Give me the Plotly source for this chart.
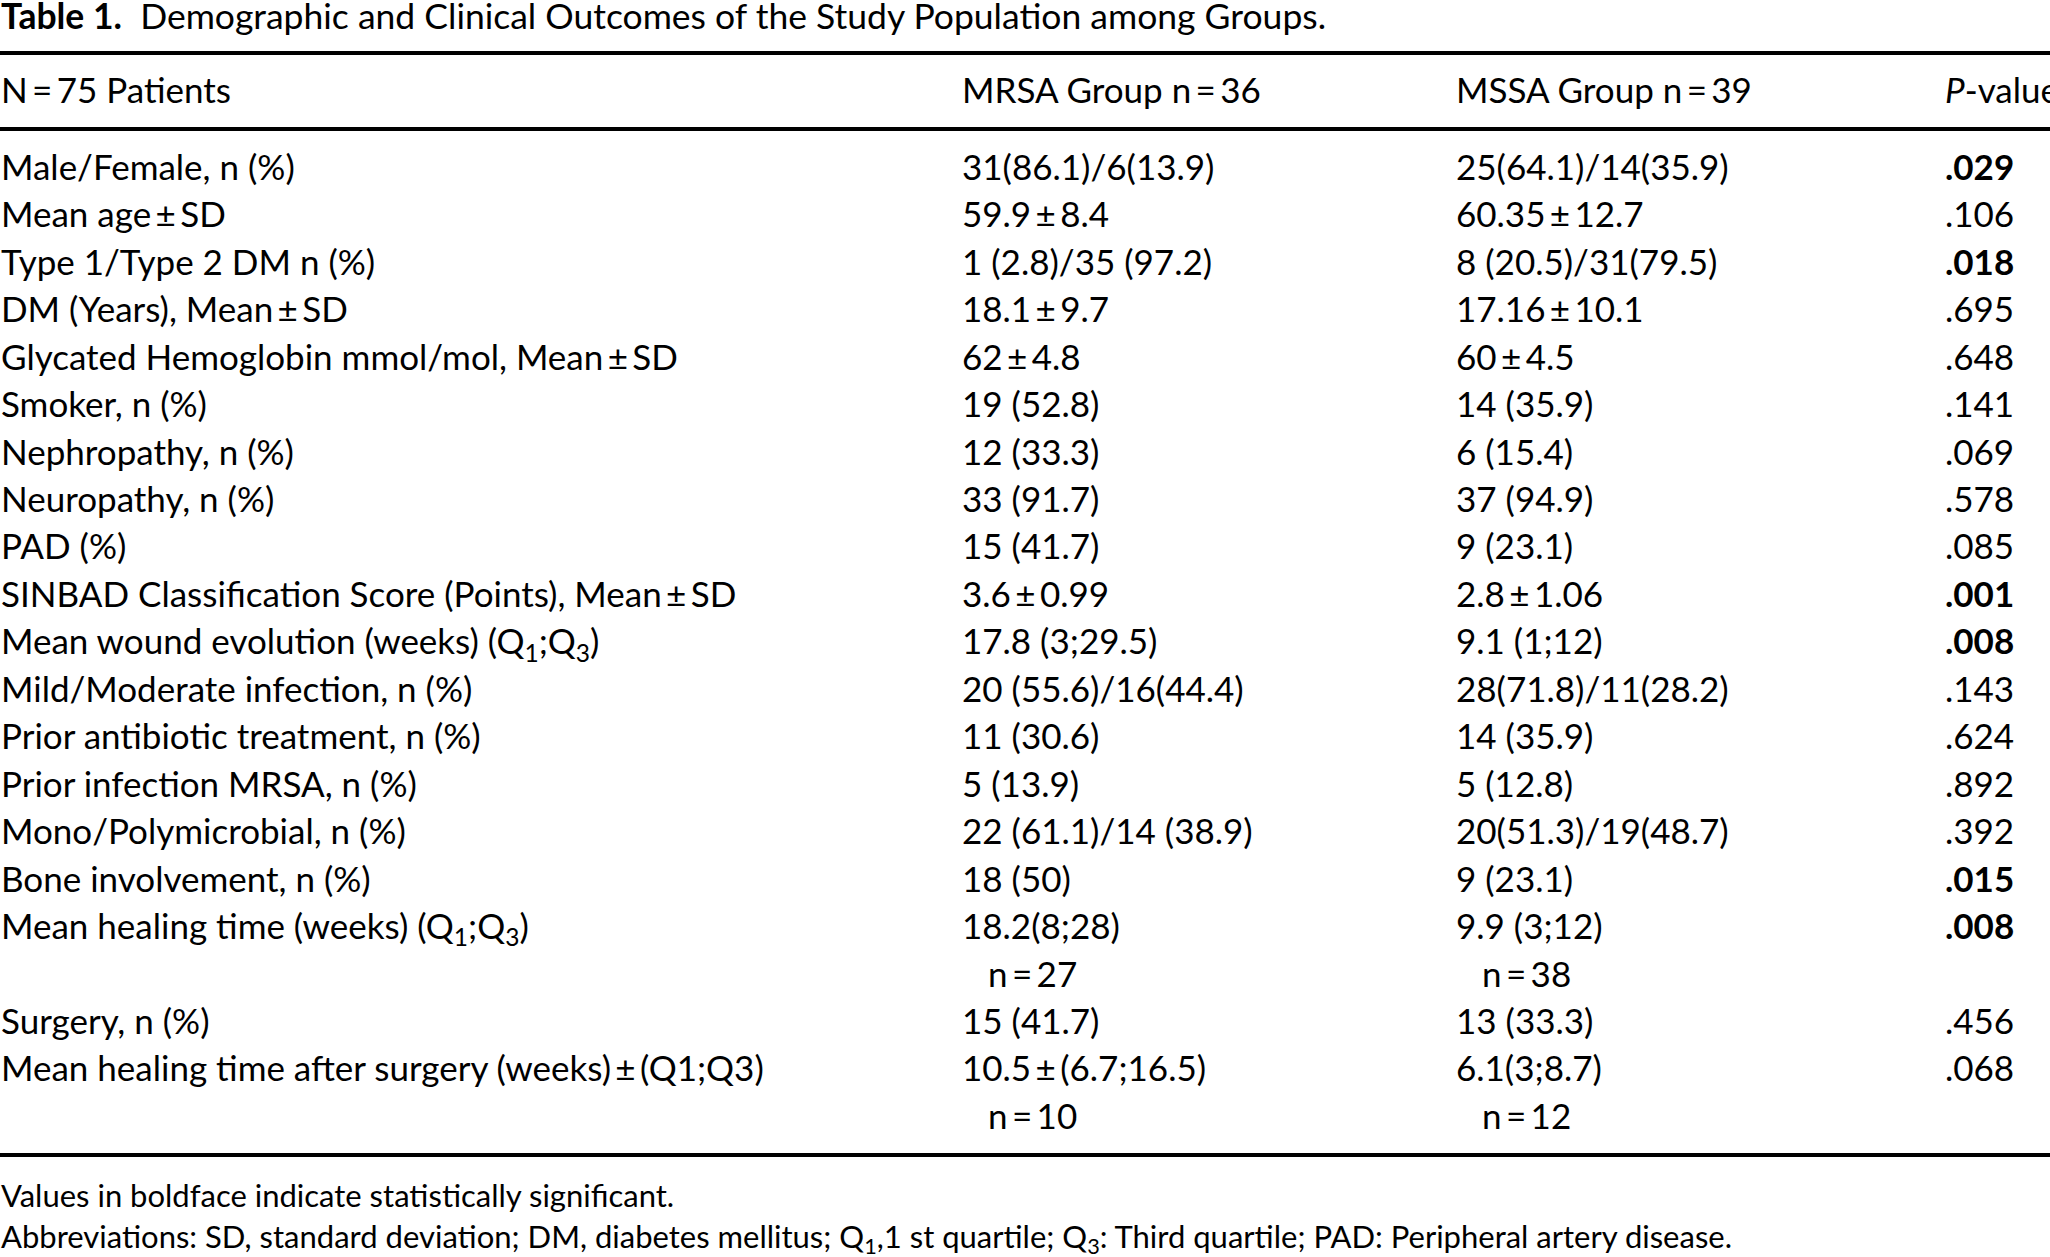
import plotly.graph_objects as go

# table content
title_text = "<b>Table 1.</b>  Demographic and Clinical Outcomes of the Study Population among Groups."
header = ["N\u2009=\u200975 Patients", "MRSA Group n\u2009=\u200936", "MSSA Group n\u2009=\u200939", "<i>P</i>-value"]

PM = "\u2009\u00b1\u2009"
Q13 = "(Q<sub>1</sub>;Q<sub>3</sub>)"

variables = [
    "Male/Female, n (%)",
    "Mean age" + PM + "SD",
    "Type 1/Type 2 DM n (%)",
    "DM (Years), Mean" + PM + "SD",
    "Glycated Hemoglobin mmol/mol, Mean" + PM + "SD",
    "Smoker, n (%)",
    "Nephropathy, n (%)",
    "Neuropathy, n (%)",
    "PAD (%)",
    "SINBAD Classification Score (Points), Mean" + PM + "SD",
    "Mean wound evolution (weeks) " + Q13,
    "Mild/Moderate infection, n (%)",
    "Prior antibiotic treatment, n (%)",
    "Prior infection MRSA, n (%)",
    "Mono/Polymicrobial, n (%)",
    "Bone involvement, n (%)",
    "Mean healing time (weeks) " + Q13,
    "Surgery, n (%)",
    "Mean healing time after surgery (weeks)" + PM + "(Q1;Q3)",
]
mrsa = [
    "31(86.1)/6(13.9)", "59.9" + PM + "8.4", "1 (2.8)/35 (97.2)", "18.1" + PM + "9.7",
    "62" + PM + "4.8", "19 (52.8)", "12 (33.3)", "33 (91.7)", "15 (41.7)",
    "3.6" + PM + "0.99", "17.8 (3;29.5)", "20 (55.6)/16(44.4)", "11 (30.6)",
    "5 (13.9)", "22 (61.1)/14 (38.9)", "18 (50)", "18.2(8;28)", "15 (41.7)",
    "10.5" + PM + "(6.7;16.5)",
]
mssa = [
    "25(64.1)/14(35.9)", "60.35" + PM + "12.7", "8 (20.5)/31(79.5)", "17.16" + PM + "10.1",
    "60" + PM + "4.5", "14 (35.9)", "6 (15.4)", "37 (94.9)", "9 (23.1)",
    "2.8" + PM + "1.06", "9.1 (1;12)", "28(71.8)/11(28.2)", "14 (35.9)",
    "5 (12.8)", "20(51.3)/19(48.7)", "9 (23.1)", "9.9 (3;12)", "13 (33.3)",
    "6.1(3;8.7)",
]
p_values = [".029", ".106", ".018", ".695", ".648", ".141", ".069", ".578", ".085",
            ".001", ".008", ".143", ".624", ".892", ".392", ".015", ".008", ".456", ".068"]
significant = [True, False, True, False, False, False, False, False, False,
               True, True, False, False, False, False, True, True, False, False]
# second line under some rows: row index -> (mrsa n, mssa n)
sub_n = {16: ("n\u2009=\u200927", "n\u2009=\u200938"), 18: ("n\u2009=\u200910", "n\u2009=\u200912")}

footnotes = [
    "Values in boldface indicate statistically significant.",
    "Abbreviations: SD, standard deviation; DM, diabetes mellitus; Q<sub>1</sub>,1 st quartile; "
    "Q<sub>3</sub>: Third quartile; PAD: Peripheral artery disease.",
]

# layout in pixels
W, H = 2050, 1257
FONT = "Lato"
BODY, TITLE, FOOT = 35, 35.5, 31
COLX = [1, 962, 1456, 1945]
N_INDENT = 26
Y_TITLE, Y_RULE1, Y_HEAD, Y_RULE2 = 20, 53, 94, 129
Y_ROW0, LINE_H = 171, 47.46
Y_RULE3 = 1155
Y_FOOT = [1199, 1240]

# line positions of each row (two-line rows push the next row down)
row_y = []
line = 0
for i in range(len(variables)):
    row_y.append(Y_ROW0 + line * LINE_H)
    line += 2 if i in sub_n else 1

fig = go.Figure()


def add_text(xs, ys, texts, size=BODY):
    fig.add_trace(go.Scatter(
        x=xs, y=ys, text=texts, mode="text", textposition="middle right",
        textfont=dict(family=FONT, size=size, color="black"),
        hoverinfo="skip", showlegend=False, cliponaxis=False,
    ))


n = len(variables)
add_text([COLX[0]] * n, row_y, variables)
add_text([COLX[1]] * n, row_y, mrsa)
add_text([COLX[2]] * n, row_y, mssa)
add_text([COLX[3]] * n, row_y, ["<b>%s</b>" % p if s else p for p, s in zip(p_values, significant)])

sub_rows = list(sub_n.keys())
sub_y = [row_y[i] + LINE_H for i in sub_rows]
add_text([COLX[1] + N_INDENT] * len(sub_rows), sub_y, [sub_n[i][0] for i in sub_rows])
add_text([COLX[2] + N_INDENT] * len(sub_rows), sub_y, [sub_n[i][1] for i in sub_rows])

add_text(COLX, [Y_HEAD] * 4, header)
add_text([COLX[0]], [Y_TITLE], [title_text], size=TITLE)
add_text([COLX[0]] * 2, Y_FOOT, footnotes, size=FOOT)

for y in (Y_RULE1, Y_RULE2, Y_RULE3):
    fig.add_shape(type="line", x0=0, x1=W, y0=y, y1=y, line=dict(color="black", width=4))

fig.update_layout(
    width=W, height=H,
    margin=dict(l=0, r=0, t=0, b=0),
    paper_bgcolor="white", plot_bgcolor="white",
    xaxis=dict(range=[0, W], visible=False, fixedrange=True),
    yaxis=dict(range=[H, 0], visible=False, fixedrange=True),
)

# drop the browser's default page margin so the figure fills the window
fig.write_html("out.html", config={"displayModeBar": False},
               post_script="document.body.style.margin = '0';")
